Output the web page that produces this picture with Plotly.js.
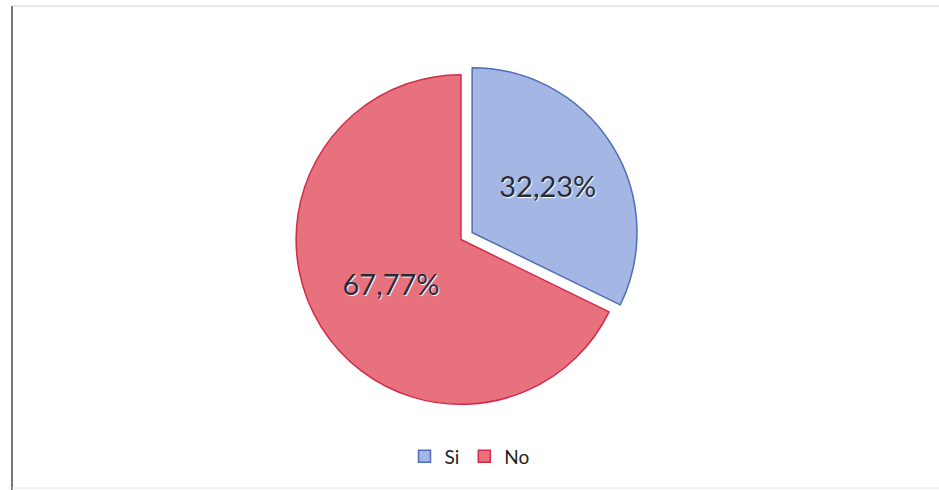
<!DOCTYPE html>
<html>
<head>
<meta charset="utf-8">
<script src="https://cdn.plot.ly/plotly-3.0.1.min.js"></script>
<style>html,body{margin:0;padding:0;background:#fff;}#chart{width:939px;height:490px;}</style>
</head>
<body>
<div id="chart"></div>
<script>
const categories = ["Si", "No"];
const values = [32.23, 67.77];
const labelsText = ["32,23%", "67,77%"];

const trace = {
  type: "pie",
  labels: categories,
  values: values,
  text: labelsText,
  textinfo: "text",
  textposition: "inside",
  insidetextorientation: "horizontal",
  sort: false,
  direction: "clockwise",
  rotation: 0,
  pull: [0.08, 0],
  marker: {
    colors: ["#a4b7e4", "#e8717e"],
    line: {color: ["#4f6cb8", "#d42a48"], width: 1.5}
  },
  textfont: {family: "Lato, 'Open Sans', sans-serif", size: 29, color: "#2a2a35", shadow: "1px 1px 1px #ffffff"},
  domain: {x: [0.3013, 0.6805], y: [0.1438, 0.8786]},
  hoverinfo: "none"
};

const layout = {
  width: 939,
  height: 490,
  margin: {l: 0, r: 0, t: 0, b: 0},
  paper_bgcolor: "#ffffff",
  showlegend: true,
  legend: {
    orientation: "h",
    x: 0.5, xanchor: "center",
    y: 0.03, yanchor: "bottom",
    font: {family: "Lato, 'Open Sans', sans-serif", size: 19, color: "#222"},
    itemwidth: 30,
    traceorder: "normal"
  },
  shapes: [
    {type: "line", xref: "paper", yref: "paper", x0: 12/939, x1: 12/939, y0: 0, y1: 1 - 6/490, line: {color: "#777", width: 2}},
    {type: "line", xref: "paper", yref: "paper", x0: 12/939, x1: 1, y0: 1 - 6/490, y1: 1 - 6/490, line: {color: "#d0d0d0", width: 1}},
    {type: "line", xref: "paper", yref: "paper", x0: 12/939, x1: 1, y0: 2/490, y1: 2/490, line: {color: "#e6e6e6", width: 1}}
  ]
};

Plotly.newPlot("chart", [trace], layout, {displayModeBar: false, staticPlot: true});
</script>
</body>
</html>
